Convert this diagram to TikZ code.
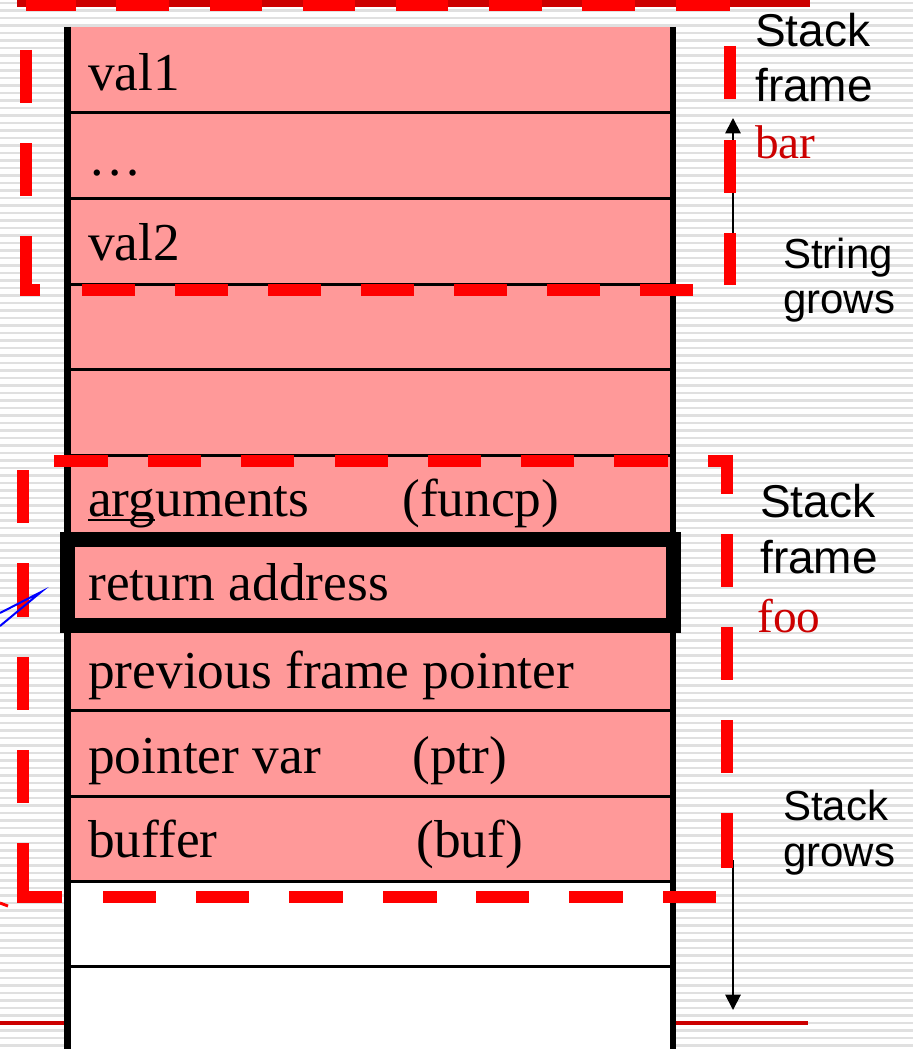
\documentclass[tikz,border=0pt]{standalone}
\usepackage{fontspec}
\setmainfont{Liberation Serif}
\newfontfamily\labelsans{Liberation Sans}
\usetikzlibrary{arrows.meta}
\definecolor{cellpink}{HTML}{FF9999}
\definecolor{framered}{HTML}{FF0000}
\definecolor{linered}{HTML}{CC0000}
\definecolor{stripegray}{HTML}{E0E0E0}
\definecolor{pointerblue}{HTML}{0000FF}

% underline that sits close to the baseline
\newcommand\lowul[1]{\setbox0\hbox{#1}\rlap{\rule[-0.1em]{\wd0}{0.045em}}\box0}

\begin{document}
\begin{tikzpicture}[x=0.75pt,y=-0.75pt,
  celltext/.style={anchor=base west,inner sep=0pt,font=\fontsize{40}{40}\selectfont},
  sidelabel/.style={anchor=base west,inner sep=0pt,font=\labelsans\fontsize{34.5}{34.5}\selectfont},
  growlabel/.style={anchor=base west,inner sep=0pt,font=\labelsans\fontsize{31.5}{31.5}\selectfont},
  framename/.style={anchor=base west,inner sep=0pt,text=linered,font=\fontsize{35.5}{35.5}\selectfont},
  separator/.style={line width=2.25pt},
  wall/.style={line width=4.6pt},
  frameedge/.style={framered,line width=9.5pt},
  framecorner/.style={framered,line width=9.5pt,line join=miter},
  growarrow/.style={line width=1.4pt,-{Triangle[length=11.5pt,width=11.5pt]}}]

\useasboundingbox (0,0) rectangle (913,1049);
\clip (0,0) rectangle (913,1049);

% lined paper background
\fill[white] (0,0) rectangle (913,1049);
\foreach \y in {3,10.5,...,1049} \draw[stripegray,line width=1.8pt] (0,\y) -- (913,\y);

% solid dark red rules at top and bottom
\draw[linered,line width=6pt] (17,3) -- (810,3);
\draw[linered,line width=3pt] (0,1023) -- (808,1023);

% stack cells
\fill[cellpink] (67.5,27) rectangle (673,881);
\fill[white] (67.5,881) rectangle (673,1049);
\foreach \y in {112,198,284,369,455,710,796,881,966}
  \draw[separator] (67.5,\y) -- (673,\y);
\draw[wall] (67.5,27) -- (67.5,1049);
\draw[wall] (673,27) -- (673,1049);
\draw[line width=11.25pt] (67.5,539.5) rectangle (673.5,625.5);

% cell contents
\node[celltext] (val1) at (88,90) {val1};
\node[celltext] (dots) at (88,175) {…};
\node[celltext] (val2) at (88,260) {val2};
\node[celltext] (args) at (88,516) {\lowul{arg}uments};
\node[celltext] (funcp) at (402,516) {(funcp)};
\node[celltext] (ret) at (88,600) {return address};
\node[celltext] (prevfp) at (88,688) {previous frame pointer};
\node[celltext] (ptrvar) at (88,773) {pointer var};
\node[celltext] (ptr) at (412,773) {(ptr)};
\node[celltext] (bufvar) at (88,857) {buffer};
\node[celltext] (buf) at (416,857) {(buf)};

% growth arrows
\coordinate (upfrom) at (733,285);
\coordinate (upto) at (733,118);
\coordinate (downfrom) at (733,860);
\coordinate (downto) at (733,1010);
\draw[growarrow] (upfrom) -- (upto);
\draw[growarrow] (downfrom) -- (downto);

% stack frame of bar
\foreach \a/\b in {26/76,116/169,210/262,303/355,396/448,489/542,582/635,676/730}
  \draw[frameedge] (\a,5) -- (\b,5);
\foreach \a/\b in {46/99,140/193,233/285}
  \draw[frameedge] (730,\a) -- (730,\b);
\foreach \a/\b in {82/135,175/228,268/321,361/414,454/507,547/600,640/693}
  \draw[frameedge] (\a,290) -- (\b,290);
\draw[framecorner] (40,290) -- (26,290) -- (26,236);
\foreach \a/\b in {50/103,143/196}
  \draw[frameedge] (26,\a) -- (26,\b);

% stack frame of foo
\foreach \a/\b in {54/108,148/201,241/294,335/388,428/481,521/574,614/668}
  \draw[frameedge] (\a,461) -- (\b,461);
\draw[framecorner] (708,461) -- (727,461) -- (727,494);
\foreach \a/\b in {534/587,627/680,720/773,813/868}
  \draw[frameedge] (727,\a) -- (727,\b);
\foreach \a/\b in {103/156,196/249,289/343,383/437,476/529,569/623,663/716}
  \draw[frameedge] (\a,897) -- (\b,897);
\draw[framecorner] (62,897) -- (23,897) -- (23,843);
\foreach \a/\b in {470/523,563/617,657/710,750/803}
  \draw[frameedge] (23,\a) -- (23,\b);

% stray marks at the left border
\coordinate (blueA) at (0,613);
\coordinate (blueB) at (0,626);
\coordinate (bluetip) at (41,592);
\draw[pointerblue,line width=1.5pt] (blueA) -- (bluetip) -- (blueB);
\coordinate (redA) at (0,903);
\coordinate (redB) at (8,906);
\draw[framered,line width=2.2pt] (redA) -- (redB);

% labels on the right
\node[sidelabel] (barstack) at (755,47) {Stack};
\node[sidelabel] (barframe) at (755,102) {frame};
\node[framename] (barname) at (755,158) {bar};
\node[growlabel] (strstr) at (783,268) {String};
\node[growlabel] (strgrow) at (783,313) {grows};
\node[sidelabel] (foostack) at (760,517) {Stack};
\node[sidelabel] (fooframe) at (760,573) {frame};
\node[framename] (fooname) at (757,632) {foo};
\node[growlabel] (stkstk) at (783,820) {Stack};
\node[growlabel] (stkgrow) at (783,866) {grows};
\end{tikzpicture}
\end{document}
